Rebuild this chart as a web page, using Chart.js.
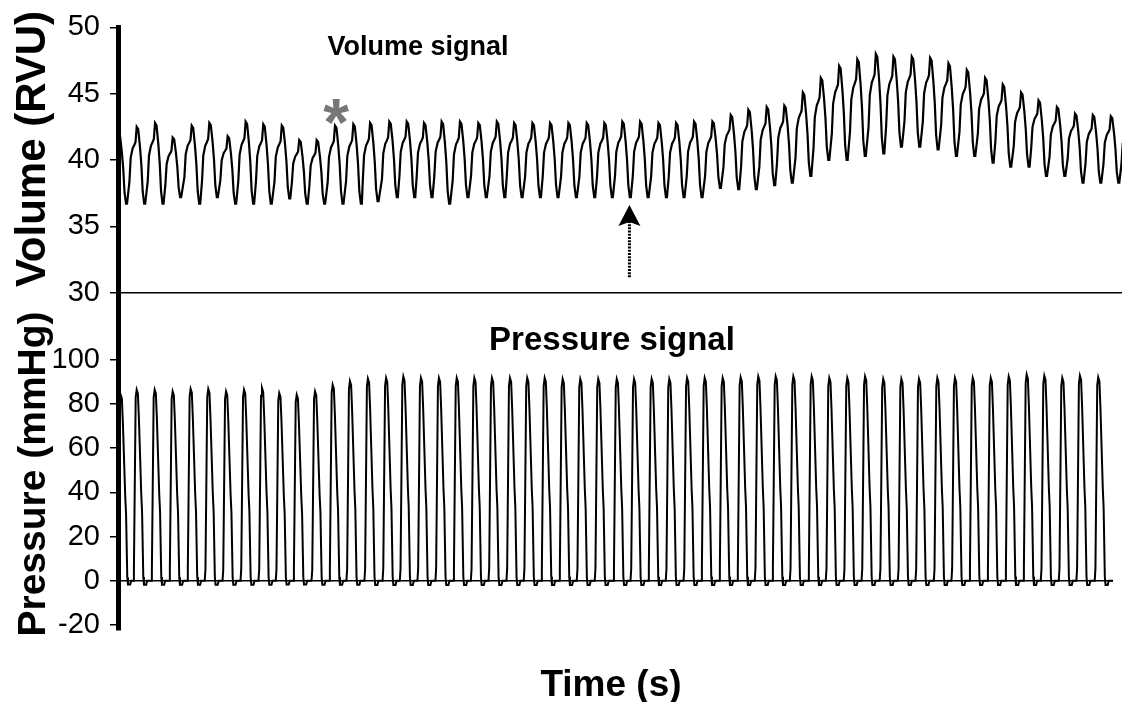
<!DOCTYPE html>
<html>
<head>
<meta charset="utf-8">
<title>Volume and pressure signals</title>
<script src="https://cdn.jsdelivr.net/npm/chart.js@4.4.1/dist/chart.umd.min.js"></script>
<style>
  html, body { margin: 0; padding: 0; background: #fff; }
  #wrap { position: relative; width: 1122px; height: 702px; overflow: hidden; font-family: "Liberation Sans", Arial, sans-serif; color: #000; }
  #volChart { position: absolute; left: 0; top: 0; }
  #presChart { position: absolute; left: 0; top: 250px; }
  .lbl { position: absolute; font-weight: bold; line-height: 1; white-space: nowrap; transform: translate(-50%, -50%); }
  .rot { transform: translate(-50%, -50%) rotate(-90deg); }
</style>
</head>
<body>
<div id="wrap">
  <canvas id="volChart" width="1122" height="320"></canvas>
  <canvas id="presChart" width="1122" height="452"></canvas>
  <div class="lbl" style="left:418px; top:46px; font-size:27px;">Volume signal</div>
  <div class="lbl" style="left:612px; top:338px; font-size:33px;">Pressure signal</div>
  <div class="lbl" style="left:611px; top:683px; font-size:37px;">Time (s)</div>
  <div class="lbl rot" style="left:31px; top:149px; font-size:42px;">Volume (RVU)</div>
  <div class="lbl rot" style="left:31px; top:474px; font-size:39px;">Pressure (mmHg)</div>
  <div class="lbl" style="left:336px; top:122px; font-size:66px; color:#777;">*</div>
</div>
<script>
// time (s) of each volume peak
var volTimes = [0.003, 0.105, 0.208, 0.307, 0.414, 0.513, 0.616, 0.717, 0.816, 0.920,
  1.018, 1.116, 1.219, 1.322, 1.416, 1.524, 1.622, 1.719, 1.818, 1.921,
  2.024, 2.128, 2.225, 2.328, 2.427, 2.530, 2.633, 2.732, 2.833, 2.933,
  3.036, 3.135, 3.236, 3.339, 3.442, 3.541, 3.644, 3.743, 3.847, 3.948,
  4.051, 4.153, 4.257, 4.356, 4.459, 4.562, 4.665, 4.768, 4.871, 4.970,
  5.073, 5.171, 5.274, 5.376, 5.476, 5.577];
// volume (RVU) at each peak and at the trough that follows it
var volPeaks = [42.0, 42.5, 42.8, 41.7, 42.6, 42.8, 41.8, 42.9, 42.7, 42.6,
  41.5, 41.5, 42.6, 42.7, 42.8, 42.9, 42.9, 42.8, 42.9, 42.9,
  42.8, 42.9, 42.8, 42.8, 42.8, 42.8, 42.8, 42.8, 42.9, 42.9,
  42.8, 42.8, 42.9, 42.9, 43.4, 43.8, 44.0, 44.1, 45.1, 46.2,
  47.1, 47.6, 48.0, 47.8, 47.8, 47.7, 47.3, 46.8, 46.2, 45.7,
  45.1, 44.5, 44.0, 43.5, 43.4, 43.3];
var volTroughs = [36.7, 36.7, 36.7, 37.2, 36.7, 37.2, 36.7, 36.7, 36.7, 37.1,
  36.7, 36.7, 36.7, 36.7, 36.9, 37.2, 37.2, 37.2, 36.7, 37.2,
  37.2, 37.2, 37.2, 37.2, 37.2, 37.2, 37.2, 37.2, 37.2, 37.2,
  37.2, 37.2, 37.2, 37.9, 37.8, 37.8, 38.1, 38.3, 38.8, 40.0,
  40.0, 40.3, 40.5, 41.0, 41.0, 40.8, 40.3, 40.3, 39.8, 39.5,
  39.5, 38.8, 38.8, 38.3, 38.3, 38.3];
// time (s) and height (mmHg) of each pressure peak
var presTimes = [0.015, 0.105, 0.206, 0.307, 0.408, 0.507, 0.607, 0.708, 0.809, 0.906,
  1.004, 1.107, 1.206, 1.303, 1.404, 1.506, 1.603, 1.702, 1.803, 1.903,
  2.002, 2.101, 2.202, 2.299, 2.397, 2.498, 2.597, 2.698, 2.802, 2.899,
  2.998, 3.097, 3.197, 3.296, 3.397, 3.498, 3.597, 3.695, 3.794, 3.897,
  3.996, 4.097, 4.197, 4.299, 4.401, 4.500, 4.603, 4.702, 4.802, 4.903,
  5.004, 5.105, 5.204, 5.305, 5.404, 5.507];
var presPeaks = [84.1, 86.4, 86.4, 85.6, 86.7, 86.7, 85.6, 86.4, 87.1, 84.8,
  84.1, 85.6, 88.6, 90.2, 91.4, 91.7, 92.4, 91.7, 91.7, 91.7,
  91.7, 91.7, 91.7, 91.7, 91.7, 91.2, 91.2, 91.2, 91.2, 91.2,
  91.2, 91.2, 91.7, 91.7, 91.7, 92.0, 92.4, 92.4, 92.4, 92.4,
  91.7, 91.7, 92.4, 91.2, 91.2, 91.2, 91.7, 91.7, 91.7, 91.7,
  92.4, 93.2, 92.7, 91.7, 92.7, 92.0];
var presShapeDt = [-0.0197, -0.0157, -0.0056, 0, 0.0067, 0.0124, 0.0258, 0.0303, 0.0371, 0.0410, 0.0534, 0.0590];
var presShapeFrac = [0, 0.06, 0.96, 1, 0.98, 0.85, 0.45, 0.36, 0.02, -0.02, -0.02, 0];
var volFallDt = [0, 0.0084, 0.0185, 0.0264, 0.0337, 0.0421, 0.0478];
var volFallFrac = [1, 0.97, 0.74, 0.5, 0.16, 0, 0];
var volRiseDt = [-0.0410, -0.0337, -0.0225, -0.0140, -0.0067];
var volRiseFrac = [0.28, 0.6, 0.72, 0.76, 0.8];
// axis ticks and ranges
var volTicks = [30, 35, 40, 45, 50];
var presTicks = [-20, 0, 20, 40, 60, 80, 100];
var volXMax = 5.64;
var presXMax = 5.59;
// arrow under the volume trace: time, tip value, tail value
var arrowAt = [2.873, 36.6, 31.15];

Chart.defaults.color = "#000";
Chart.defaults.font.family = "'Liberation Sans', Arial, sans-serif";
var tickFont = { size: 29 };

function buildVolume() {
  var pts = [];
  for (var k = 0; k < volTimes.length; k++) {
    var p = volPeaks[k];
    var tr = volTroughs[k];
    for (var i = 0; i < volFallDt.length; i++) {
      pts.push({ x: volTimes[k] + volFallDt[i], y: tr + volFallFrac[i] * (p - tr) });
    }
    var nextT = k + 1 < volTimes.length ? volTimes[k + 1] : volTimes[k] + (volTimes[k] - volTimes[k - 1]);
    var nextP = k + 1 < volPeaks.length ? volPeaks[k + 1] : p;
    for (var j = 0; j < volRiseDt.length; j++) {
      pts.push({ x: nextT + volRiseDt[j], y: tr + volRiseFrac[j] * (nextP - tr) });
    }
  }
  return pts;
}

function buildPressure() {
  var pts = [];
  for (var k = 0; k < presTimes.length; k++) {
    for (var i = 0; i < presShapeDt.length; i++) {
      pts.push({ x: presTimes[k] + presShapeDt[i], y: presShapeFrac[i] * presPeaks[k] });
    }
  }
  pts.push({ x: presXMax, y: 0 });
  return pts;
}

var arrowPlugin = {
  id: "arrowMark",
  afterDatasetsDraw: function (chart) {
    var ctx = chart.ctx;
    var x = chart.scales.x.getPixelForValue(arrowAt[0]);
    var yTip = chart.scales.y.getPixelForValue(arrowAt[1]);
    var yTail = chart.scales.y.getPixelForValue(arrowAt[2]);
    ctx.save();
    ctx.strokeStyle = "#000";
    ctx.lineWidth = 3;
    ctx.setLineDash([2, 1.2]);
    ctx.beginPath();
    ctx.moveTo(x, yTail);
    ctx.lineTo(x, yTip + 16);
    ctx.stroke();
    ctx.setLineDash([]);
    ctx.fillStyle = "#000";
    ctx.beginPath();
    ctx.moveTo(x, yTip);
    ctx.lineTo(x + 11, yTip + 21);
    ctx.lineTo(x, yTip + 17);
    ctx.lineTo(x - 11, yTip + 21);
    ctx.closePath();
    ctx.fill();
    ctx.restore();
  }
};

var volChart = new Chart(document.getElementById("volChart"), {
  type: "line",
  data: {
    datasets: [{ data: buildVolume(), borderColor: "#000", borderWidth: 2.2, pointRadius: 0, tension: 0, fill: false }]
  },
  options: {
    responsive: false,
    animation: false,
    layout: { padding: { left: 0, right: 0, top: 26.7, bottom: 26.7 } },
    plugins: { legend: { display: false }, tooltip: { enabled: false } },
    scales: {
      x: {
        type: "linear", min: 0, max: volXMax,
        grid: { display: false, drawTicks: false },
        ticks: { display: false },
        border: { display: true, color: "#000", width: 1.5 },
        afterFit: function (s) { s.height = 0; }
      },
      y: {
        min: 30, max: 50,
        afterFit: function (s) { s.width = 118; },
        afterBuildTicks: function (s) { s.ticks = volTicks.map(function (v) { return { value: v }; }); },
        ticks: { font: tickFont, color: "#000", padding: 10 },
        grid: { display: true, drawOnChartArea: false, drawTicks: true, tickLength: 8, color: "#000", lineWidth: 1.5 },
        border: { display: true, color: "#000", width: 5 }
      }
    }
  },
  plugins: [arrowPlugin]
});

var presChart = new Chart(document.getElementById("presChart"), {
  type: "line",
  data: {
    datasets: [{ data: buildPressure(), borderColor: "#000", borderWidth: 2, pointRadius: 0, tension: 0, fill: false }]
  },
  options: {
    responsive: false,
    animation: false,
    layout: { padding: { left: 0, right: 9, top: 44, bottom: 72 } },
    plugins: { legend: { display: false }, tooltip: { enabled: false } },
    scales: {
      x: { type: "linear", min: 0, max: presXMax, display: false },
      y: {
        min: -22.2, max: 129.6,
        afterFit: function (s) { s.width = 118; },
        afterBuildTicks: function (s) { s.ticks = presTicks.map(function (v) { return { value: v }; }); },
        ticks: { font: tickFont, color: "#000", padding: 10 },
        grid: {
          display: true, drawOnChartArea: true, drawTicks: true, tickLength: 8, lineWidth: 1.5,
          color: function (c) { return c.tick && c.tick.value === 0 ? "#000" : "rgba(0,0,0,0)"; },
          tickColor: "#000"
        },
        border: { display: true, color: "#000", width: 5 }
      }
    }
  }
});
</script>
</body>
</html>
